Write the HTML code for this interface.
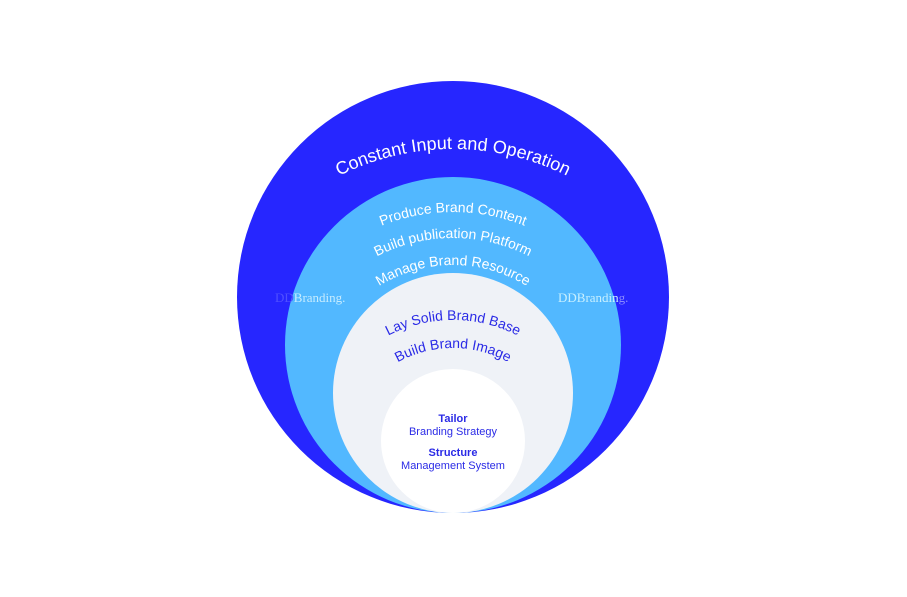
<!DOCTYPE html>
<html><head><meta charset="utf-8"><style>
html,body{margin:0;padding:0;background:#fff;width:907px;height:597px;overflow:hidden}
svg{display:block}
</style></head><body>
<svg width="907" height="597" viewBox="0 0 907 597" xmlns="http://www.w3.org/2000/svg" font-family="Liberation Sans, sans-serif">
<defs>
<path id="p0" d="M198,404 A255,255 0 0 1 708,404"/>
<path id="p1" d="M260,405 A193,193 0 0 1 646,405"/>
<path id="p2" d="M286,405 A167,167 0 0 1 620,405"/>
<path id="p3" d="M313,405 A140,140 0 0 1 593,405"/>
<path id="p4" d="M311,462 A142,142 0 0 1 595,462"/>
<path id="p5" d="M339,462 A114,114 0 0 1 567,462"/>
</defs>
<circle cx="453" cy="297" r="216" fill="#2626ff"/>
<circle cx="453" cy="345" r="168" fill="#52b8ff"/>
<circle cx="453" cy="393" r="120" fill="#eff2f7"/>
<circle cx="453" cy="441" r="72" fill="#ffffff"/>
<text font-size="18" fill="#fff" text-anchor="middle"><textPath href="#p0" startOffset="50%">Constant Input and Operation</textPath></text>
<g font-size="14" fill="#fff" text-anchor="middle">
<text><textPath href="#p1" startOffset="50%">Produce Brand Content</textPath></text>
<text><textPath href="#p2" startOffset="50%">Build publication Platform</textPath></text>
<text><textPath href="#p3" startOffset="50%">Manage Brand Resource</textPath></text>
</g>
<g font-size="14" fill="#2b2be6" text-anchor="middle">
<text><textPath href="#p4" startOffset="50%">Lay Solid Brand Base</textPath></text>
<text><textPath href="#p5" startOffset="50%">Build Brand Image</textPath></text>
</g>
<g font-size="11" fill="#2b2be6" text-anchor="middle" font-weight="bold">
<text x="453" y="422">Tailor</text>
<text x="453" y="456">Structure</text>
</g>
<g font-size="11" fill="#2b2be6" text-anchor="middle">
<text x="453" y="435">Branding Strategy</text>
<text x="453" y="469">Management System</text>
</g>
<g font-family="Liberation Serif, serif" font-size="13">
<text x="275" y="302"><tspan fill="#5050ff">DD</tspan><tspan fill="#c6ecff">Branding.</tspan></text>
<text x="558" y="302"><tspan fill="#c8f0ff">DDBrandin</tspan><tspan fill="#8a8aff">g.</tspan></text>
</g>
</svg>
</body></html>
